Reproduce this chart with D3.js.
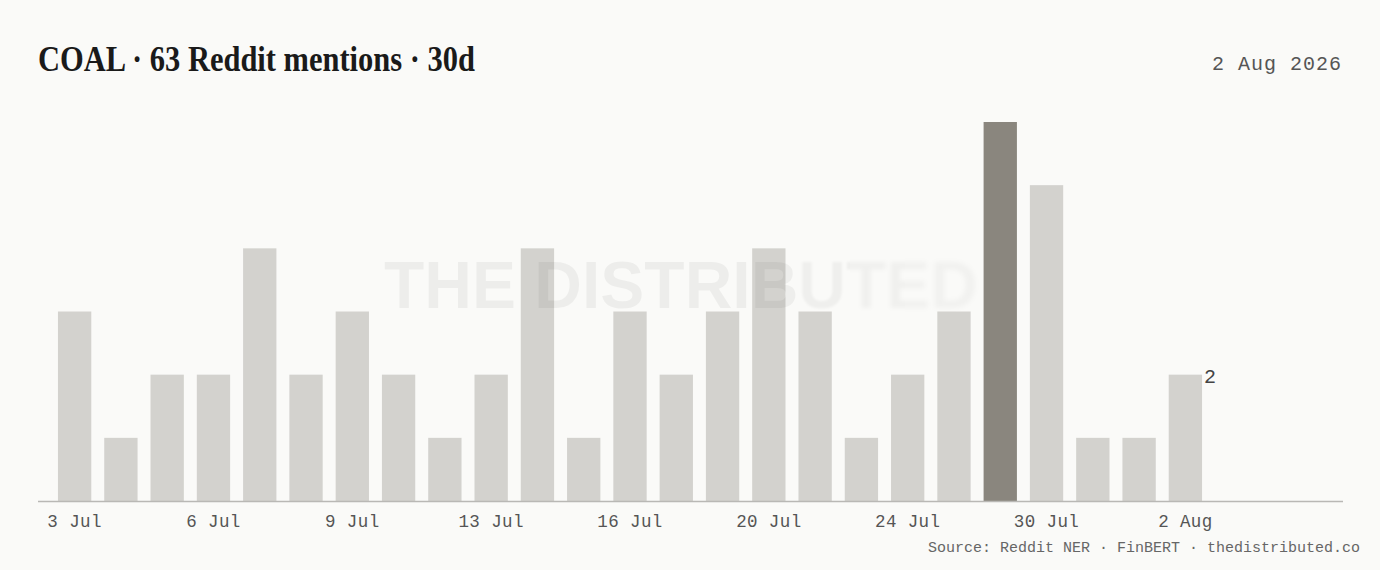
<!DOCTYPE html>
<html><head><meta charset="utf-8">
<script src="https://cdn.jsdelivr.net/npm/d3@7"></script>
<style>html,body{margin:0;padding:0;background:#fafaf8;} svg{display:block}</style>
</head><body><svg id="c" width="1380" height="570"></svg>
<script>
const dates = ["2026-07-03","2026-07-04","2026-07-05","2026-07-06","2026-07-07","2026-07-08","2026-07-09","2026-07-10","2026-07-12","2026-07-13","2026-07-14","2026-07-15","2026-07-16","2026-07-17","2026-07-18","2026-07-20","2026-07-21","2026-07-22","2026-07-24","2026-07-26","2026-07-28","2026-07-30","2026-07-31","2026-08-01","2026-08-02"];
const mentions = [3,1,2,2,4,2,3,2,1,2,4,1,3,2,3,4,3,1,2,3,6,5,1,1,2];
const tickEvery = 3;
const titleText = "COAL · 63 Reddit mentions · 30d";
const asOfText = "2 Aug 2026";
const sourceText = "Source: Reddit NER · FinBERT · thedistributed.co";
const watermarkText = "THE DISTRIBUTED";

const svg = d3.select("#c");
const parse = d3.timeParse("%Y-%m-%d");
const fmt = d3.timeFormat("%-d %b");
const mono = "'Liberation Mono','DejaVu Sans Mono',monospace";

svg.append("rect").attr("width",1380).attr("height",570).attr("fill","#fafaf8");

const x = d3.scaleBand().domain(dates).range([45,1215]).paddingInner(0.28).paddingOuter(0.28);
const y = d3.scaleLinear().domain([0,6]).range([501,122]);
const maxV = d3.max(mentions);
const data = dates.map((d,i)=>({d, v:mentions[i], i}));

// bars
svg.append("g").selectAll("rect").data(data).join("rect")
  .attr("x", d=>x(d.d)).attr("width", x.bandwidth())
  .attr("y", d=>y(d.v)).attr("height", d=>y(0)-y(d.v))
  .attr("fill", d=>d.v===maxV ? "#8a867e" : "#d3d2ce");

// watermark with progressive blur
const defs = svg.append("defs");
const segs = [[0,748,0],[748,800,0.6],[800,850,1.3],[850,905,2.0],[905,1380,2.8]];
segs.forEach((s,k)=>{
  defs.append("clipPath").attr("id","wc"+k).append("rect")
    .attr("x",s[0]).attr("y",200).attr("width",s[1]-s[0]).attr("height",150);
  if (s[2]>0) defs.append("filter").attr("id","wb"+k).attr("x","-10%").attr("y","-30%").attr("width","120%").attr("height","160%")
    .append("feGaussianBlur").attr("stdDeviation",s[2]);
});
const wm = svg.append("g").attr("pointer-events","none");
segs.forEach((s,k)=>{
  const g = wm.append("g").attr("clip-path",`url(#wc${k})`);
  g.append("text").text(watermarkText)
    .attr("x",681).attr("y",308).attr("text-anchor","middle")
    .attr("font-family","'Liberation Sans',Arial,sans-serif").attr("font-weight","bold")
    .attr("font-size",66).attr("fill","#000").attr("fill-opacity", 0.05 - k*0.004)
    .attr("filter", s[2]>0 ? `url(#wb${k})` : null);
});

// axis
const tickVals = dates.filter((d,i)=>i%tickEvery===0);
const ax = svg.append("g").attr("transform","translate(0,501)")
  .call(d3.axisBottom(x).tickValues(tickVals).tickSize(0).tickPadding(0).tickFormat(d=>fmt(parse(d))));
ax.select(".domain").remove();
ax.selectAll("text").attr("y",26).attr("dy",0)
  .attr("font-family",mono).attr("font-size",17.5).attr("letter-spacing",0.4).attr("fill","#555");
svg.append("line").attr("x1",38).attr("x2",1343).attr("y1",501.5).attr("y2",501.5)
  .attr("stroke","#b9b8b5").attr("stroke-width",1.5);

// last value label
const last = data[data.length-1];
svg.append("text").text(last.v)
  .attr("x", x(last.d)+x.bandwidth()+2).attr("y", y(last.v)+8)
  .attr("font-family",mono).attr("font-size",20).attr("fill","#444");

// title
svg.append("text").text(titleText).attr("x",38).attr("y",71)
  .attr("font-family","'Liberation Serif','DejaVu Serif',serif").attr("font-weight","bold")
  .attr("font-size",36).attr("fill","#1a1a1a")
  .attr("textLength",437).attr("lengthAdjust","spacingAndGlyphs");

svg.append("text").text(asOfText).attr("x",1342).attr("y",70).attr("text-anchor","end")
  .attr("font-family",mono).attr("font-size",20).attr("letter-spacing",1).attr("fill","#555");

svg.append("text").text(sourceText).attr("x",1360).attr("y",552).attr("text-anchor","end")
  .attr("font-family",mono).attr("font-size",15).attr("fill","#666");
</script></body></html>
